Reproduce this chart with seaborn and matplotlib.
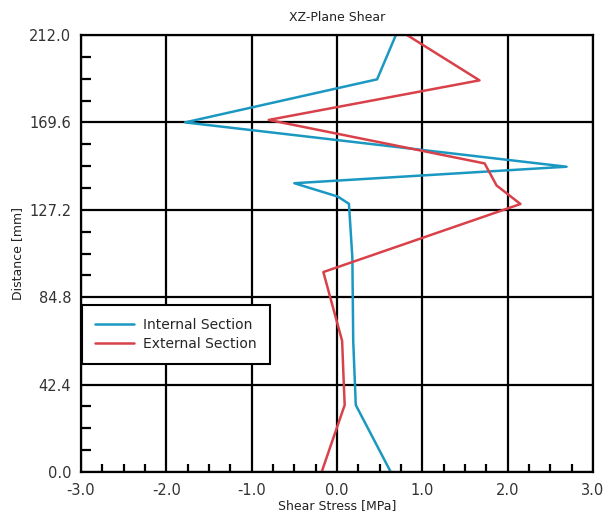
import matplotlib
matplotlib.use("Agg")
import matplotlib.pyplot as plt
import seaborn as sns
import pandas as pd
from matplotlib.ticker import MultipleLocator, FormatStrFormatter

# Data
internal_dist = [0.0, 32.5, 63.6, 104.0, 130.1, 133.6, 140.1, 148.1, 169.6, 190.5, 212.0]
internal_shear = [0.63, 0.22, 0.19, 0.18, 0.14, 0.01, -0.50, 2.69, -1.78, 0.47, 0.69]

external_dist = [0.0, 32.5, 42.4, 63.6, 97.0, 130.0, 139.0, 149.7, 170.8, 190.0, 212.0]
external_shear = [-0.18, 0.09, 0.08, 0.06, -0.16, 2.15, 1.87, 1.73, -0.80, 1.67, 0.82]

x_ticks = [-3.0, -2.0, -1.0, 0.0, 1.0, 2.0, 3.0]
y_ticks = [0.0, 42.4, 84.8, 127.2, 169.6, 212.0]

sns.set_theme(style="white")
plt.rcParams["font.family"] = ["DejaVu Sans"]
plt.rcParams["axes.unicode_minus"] = False

df = pd.concat([
    pd.DataFrame({"Distance": internal_dist, "Shear": internal_shear, "Series": "Internal Section"}),
    pd.DataFrame({"Distance": external_dist, "Shear": external_shear, "Series": "External Section"}),
], ignore_index=True)

fig = plt.figure(figsize=(6.03, 5.16), dpi=100)
ax = fig.add_axes([81/603, 1-472/516, (593-81)/603, (472-35)/516])

sns.lineplot(data=df, x="Shear", y="Distance", hue="Series", sort=False, estimator=None,
             palette={"Internal Section": "#1b98c2", "External Section": "#d9414a"},
             linewidth=1.8, ax=ax)

ax.set_xlim(-3, 3)
ax.set_ylim(0, 212)
ax.set_xticks(x_ticks)
ax.set_yticks(y_ticks)
ax.xaxis.set_major_formatter(FormatStrFormatter("%.1f"))
ax.yaxis.set_major_formatter(FormatStrFormatter("%.1f"))
ax.xaxis.set_minor_locator(MultipleLocator(0.25))
ax.yaxis.set_minor_locator(MultipleLocator(10.6))
ax.grid(True, which="major", color="black", linewidth=1.6)
ax.set_axisbelow(True)
for s in ax.spines.values():
    s.set_color("black")
    s.set_linewidth(1.6)
ax.tick_params(axis="both", which="major", length=0, labelsize=10.5, colors="#333333")
ax.tick_params(axis="x", which="major", pad=8)
ax.tick_params(axis="y", which="major", pad=7)
ax.tick_params(axis="x", which="minor", direction="in", length=6, width=1.6, color="black", bottom=True)
ax.tick_params(axis="y", which="minor", direction="in", length=7, width=1.6, color="black", left=True)

ax.set_title("XZ-Plane Shear", fontsize=9, color="#222222", pad=10)
ax.set_xlabel("Shear Stress [MPa]", fontsize=9, color="#222222", labelpad=1)
ax.set_ylabel("Distance [mm]", fontsize=9, color="#222222", labelpad=4)

leg = ax.legend(loc="upper left", bbox_to_anchor=(0.002, 0.383), borderaxespad=0,
                fontsize=10, frameon=True, fancybox=False, handlelength=2.8,
                handletextpad=0.65, borderpad=0.95, labelspacing=0.35, title=None)
leg.get_frame().set_edgecolor("black")
leg.get_frame().set_linewidth(1.5)
leg.get_frame().set_alpha(1)

fig.savefig("out.png", dpi=100)
